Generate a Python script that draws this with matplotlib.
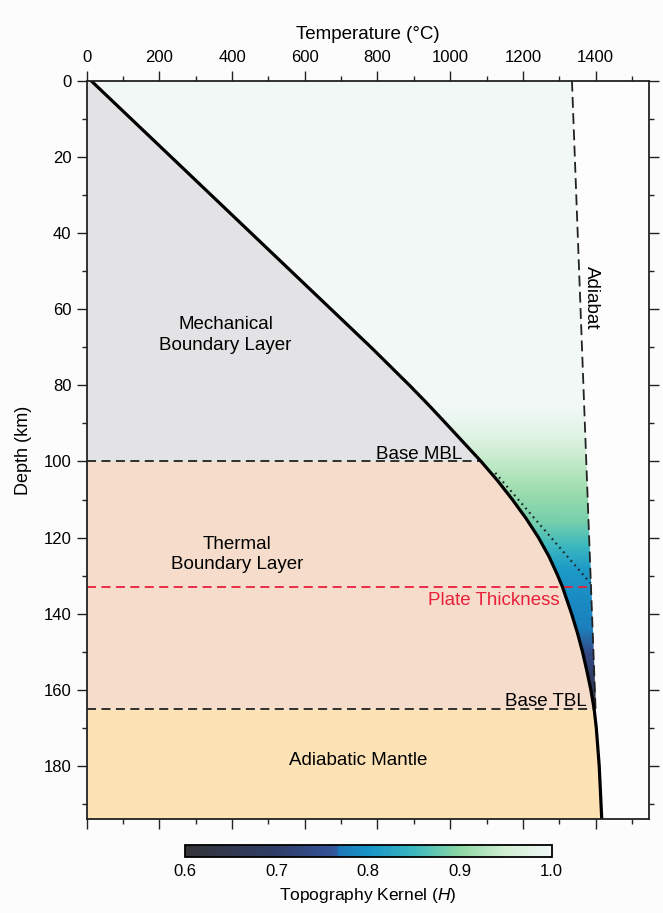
import numpy as np
import matplotlib
matplotlib.use('Agg')
from matplotlib import pyplot as plt
from matplotlib.colors import LinearSegmentedColormap, Normalize
from matplotlib.patches import Polygon
import matplotlib.cm as cm

'''
Geotherm with the lithospheric layers and the topography kernel H
'''

###########################################
# Data
###########################################

# geotherm (depth in km, temperature in C)
geo_z = np.array([0, 60, 70, 80, 85, 90, 100, 105, 110, 115, 120, 125, 130, 133, 140, 145,
                  150, 155, 160, 165, 170, 180, 194])
geo_T = np.array([12, 672, 782, 888, 939, 988, 1085, 1130, 1171, 1209, 1243, 1272, 1296, 1309, 1334, 1350,
                  1364, 1376, 1387, 1396, 1402, 1410, 1417])

# adiabat
adi_z = np.array([0, 165])
adi_T = np.array([1335, 1400])

# tangent (dotted) line
tan_z = np.array([103, 132])
tan_T = np.array([1124, 1386])

# layer depths
base_mbl = 100
plate_thick = 133
base_tbl = 165

# topography kernel against depth
kernel_z = np.array([0, 86, 94, 100, 108, 116, 122, 128, 136, 144, 150, 156, 161, 165])
kernel_H = np.array([1.0, 1.0, 0.97, 0.94, 0.91, 0.885, 0.85, 0.81, 0.79, 0.775, 0.74, 0.70, 0.66, 0.62])

cbar_ticks = [0.6, 0.7, 0.8, 0.9, 1.0]

###########################################
# Plot
###########################################

plt.rcParams['font.family'] = ['Liberation Sans', 'DejaVu Sans']
plt.rcParams['mathtext.fontset'] = 'custom'
plt.rcParams['mathtext.it'] = 'Liberation Sans:italic'
plt.rcParams['mathtext.rm'] = 'Liberation Sans'

kernel_cmap = LinearSegmentedColormap.from_list('kernel', [
    (0.0, '#343438'),
    (0.25, '#2f3d68'),
    (0.41, '#34559a'),
    (0.42, '#1c78b8'),
    (0.5, '#1794c8'),
    (0.625, '#3bb8bf'),
    (0.75, '#8dd7a3'),
    (0.875, '#d0eed2'),
    (1.0, '#f1f8f6'),
])
norm = Normalize(0.6, 1.0)

fig = plt.figure(figsize=(6.63, 9.13), dpi=100)
fig.patch.set_facecolor('#fcfcfc')
ax = fig.add_axes([0.1308, 0.1026, 0.8481, 0.809])
ax.set_facecolor('#fdfdfd')
ax.set_xlim(0, 1547)
ax.set_ylim(194, 0)

# kernel between geotherm and adiabat
Tg, Zg = np.meshgrid([0, 1547], kernel_z)
C = np.column_stack([kernel_H, kernel_H])
mesh = ax.pcolormesh(Tg, Zg, C, cmap=kernel_cmap, norm=norm, shading='gouraud', zorder=0)
in_tbl = geo_z <= base_tbl
verts = list(zip(geo_T[in_tbl], geo_z[in_tbl])) + [(adi_T[1], adi_z[1]), (adi_T[0], adi_z[0])]
clip = Polygon(verts, closed=True, transform=ax.transData, facecolor='none', edgecolor='none')
ax.add_patch(clip)
mesh.set_clip_path(clip)

# layers left of the geotherm
sel = geo_z <= base_mbl
ax.fill_betweenx(geo_z[sel], 0, geo_T[sel], color='#e3e3e5', lw=0, zorder=1)
sel = (geo_z >= base_mbl) & (geo_z <= base_tbl)
ax.fill_betweenx(geo_z[sel], 0, geo_T[sel], color='#f6ddcb', lw=0, zorder=1)
sel = geo_z >= base_tbl
ax.fill_betweenx(geo_z[sel], 0, geo_T[sel], color='#fde2b6', lw=0, zorder=1)

# boundaries
T_mbl = geo_T[geo_z == base_mbl][0]
T_tbl = geo_T[geo_z == base_tbl][0]
T_plate = adi_T[0] + (adi_T[1] - adi_T[0]) * plate_thick / adi_z[1]
ax.plot([0, T_mbl], [base_mbl, base_mbl], color='#222222', lw=1.3, ls=(0, (5, 3)), zorder=3)
ax.plot([0, T_tbl], [base_tbl, base_tbl], color='#222222', lw=1.3, ls=(0, (5, 3)), zorder=3)
ax.plot([0, T_plate], [plate_thick, plate_thick], color='#e8203a', lw=1.3, ls=(0, (5, 3)), zorder=3)
ax.plot(tan_T, tan_z, color='#1d2a30', lw=1.6, ls=(0, (0.8, 1.8)), zorder=3)
ax.plot(adi_T, adi_z, color='#222222', lw=1.3, ls=(0, (6, 3)), zorder=3)
ax.plot(geo_T, geo_z, color='black', lw=2.3, zorder=4, solid_capstyle='butt', solid_joinstyle='round')

# labels
ax.text(382, 66.8, 'Mechanical\nBoundary Layer', ha='center', va='center', fontsize=13.5, linespacing=1.25)
ax.text(414, 124.5, 'Thermal\nBoundary Layer', ha='center', va='center', fontsize=13.5, linespacing=1.25)
ax.text(747, 178.6, 'Adiabatic Mantle', ha='center', va='center', fontsize=13.5)
ax.text(1032, 99.3, 'Base MBL', ha='right', va='baseline', fontsize=13.5)
ax.text(1376, 164.3, 'Base TBL', ha='right', va='baseline', fontsize=13.5)
ax.text(1302, 134.2, 'Plate Thickness', ha='right', va='top', fontsize=13.5, color='#e8203a')
ax.text(1390, 57, 'Adiabat', ha='center', va='center', rotation=270, fontsize=13.5)

# axes
ax.xaxis.tick_top()
ax.xaxis.set_label_position('top')
ax.set_xticks(np.arange(0, 1401, 200))
ax.set_xticks(np.arange(0, 1547, 100), minor=True)
ax.set_yticks(np.arange(0, 181, 20))
ax.set_yticks(np.arange(0, 194, 10), minor=True)
ax.tick_params(which='both', direction='out', top=True, bottom=True, left=True, right=True,
               labeltop=True, labelbottom=False, labelleft=True, labelright=False,
               labelsize=12, width=1.0, color='#222222')
ax.tick_params(which='major', length=7, pad=4)
ax.tick_params(which='minor', length=3.5)
for s in ax.spines.values():
    s.set_linewidth(1.3)
    s.set_color('#222222')
    s.set_zorder(5)
ax.set_xlabel('Temperature (°C)', fontsize=13.5, labelpad=8)
ax.set_ylabel('Depth (km)', fontsize=13, labelpad=8)

# colorbar
cax = fig.add_axes([0.279, 0.061, 0.553, 0.0135])
sm = cm.ScalarMappable(norm=norm, cmap=kernel_cmap)
cb = fig.colorbar(sm, cax=cax, orientation='horizontal', ticks=cbar_ticks)
cb.ax.set_xticklabels(['%.1f' % t for t in cbar_ticks])
cb.ax.tick_params(length=0, labelsize=12, pad=5)
cb.outline.set_linewidth(1.3)
cb.set_label('Topography Kernel ($\\mathit{H}$)', fontsize=12.5, labelpad=5)

fig.savefig('out.png', dpi=100)
